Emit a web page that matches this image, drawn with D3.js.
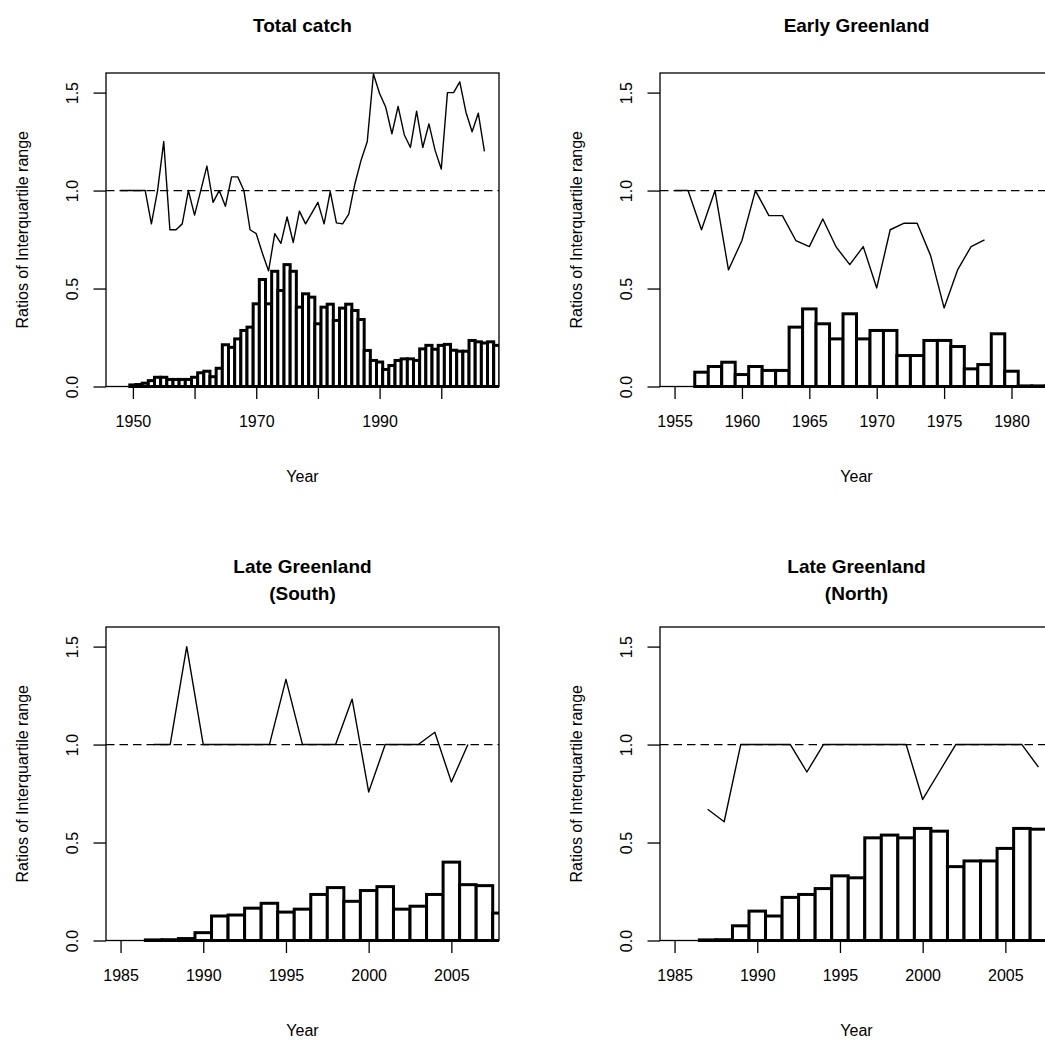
<!DOCTYPE html>
<html><head><meta charset="utf-8">
<script src="https://cdn.jsdelivr.net/npm/d3@7"></script>
<style>
body{margin:0;background:#fff}
text{font-family:"Liberation Sans", Arial, Helvetica, sans-serif;fill:#000}
</style>
</head><body>
<svg id="chart" width="1045" height="1048"></svg>
<script>
// ---------- DATA ----------
const yTickValues = [0, 0.5, 1.0, 1.5];
const yTickLabels = ["0.0", "0.5", "1.0", "1.5"];
const yRange = [0, 1.6];
const referenceLevel = 1.0;

// Total catch
const totalTitle = ["Total catch"];
const totalXRange = [1948, 2007];
const totalXTicks = [1950, 1960, 1970, 1980, 1990, 2000];
const totalXTickLabels = ["1950", "", "1970", "", "1990", ""];
const totalLineYears = [1948,1949,1950,1951,1952,1953,1954,1955,1956,1957,1958,1959,1960,1961,1962,1963,1964,1965,1966,1967,1968,1969,1970,1971,1972,1973,1974,1975,1976,1977,1978,1979,1980,1981,1982,1983,1984,1985,1986,1987,1988,1989,1990,1991,1992,1993,1994,1995,1996,1997,1998,1999,2000,2001,2002,2003,2004,2005,2006,2007];
const totalLineRatio = [1.0,1.0,1.0,1.0,1.0,0.83,1.0,1.25,0.80,0.80,0.83,1.0,0.875,1.0,1.125,0.94,1.0,0.92,1.07,1.07,1.0,0.80,0.78,0.68,0.59,0.78,0.73,0.865,0.735,0.895,0.83,0.885,0.94,0.83,0.995,0.835,0.83,0.88,1.035,1.155,1.25,1.595,1.495,1.425,1.29,1.43,1.285,1.22,1.405,1.22,1.34,1.205,1.11,1.50,1.50,1.555,1.40,1.30,1.395,1.20];
const totalBarYears = [1950,1951,1952,1953,1954,1955,1956,1957,1958,1959,1960,1961,1962,1963,1964,1965,1966,1967,1968,1969,1970,1971,1972,1973,1974,1975,1976,1977,1978,1979,1980,1981,1982,1983,1984,1985,1986,1987,1988,1989,1990,1991,1992,1993,1994,1995,1996,1997,1998,1999,2000,2001,2002,2003,2004,2005,2006,2007,2008,2009];
const totalBarValues = [0.008,0.01,0.017,0.03,0.047,0.047,0.036,0.036,0.036,0.036,0.047,0.07,0.078,0.05,0.093,0.213,0.20,0.243,0.286,0.303,0.422,0.546,0.422,0.588,0.49,0.622,0.588,0.405,0.473,0.456,0.32,0.405,0.42,0.337,0.40,0.42,0.388,0.342,0.184,0.133,0.125,0.087,0.107,0.133,0.141,0.141,0.133,0.192,0.21,0.19,0.21,0.215,0.185,0.18,0.18,0.235,0.228,0.222,0.228,0.21];

// Early Greenland
const earlyTitle = ["Early Greenland"];
const earlyXRange = [1955, 1982];
const earlyXTicks = [1955, 1960, 1965, 1970, 1975, 1980];
const earlyXTickLabels = ["1955", "1960", "1965", "1970", "1975", "1980"];
const earlyLineYears = [1955,1956,1957,1958,1959,1960,1961,1962,1963,1964,1965,1966,1967,1968,1969,1970,1971,1972,1973,1974,1975,1976,1977,1978];
const earlyLineRatio = [1.0,1.0,0.80,1.0,0.595,0.745,1.0,0.872,0.872,0.745,0.714,0.855,0.711,0.622,0.714,0.503,0.80,0.833,0.833,0.668,0.401,0.595,0.714,0.748];
const earlyBarYears = [1957,1958,1959,1960,1961,1962,1963,1964,1965,1966,1967,1968,1969,1970,1971,1972,1973,1974,1975,1976,1977,1978,1979,1980,1981,1982,1983];
const earlyBarValues = [0.073,0.102,0.124,0.061,0.102,0.082,0.082,0.303,0.396,0.32,0.243,0.371,0.243,0.286,0.286,0.158,0.158,0.235,0.235,0.204,0.09,0.112,0.269,0.078,0.003,0.003,0.003];

// Late Greenland (South)
const southTitle = ["Late Greenland", "(South)"];
const lateXRange = [1985, 2007];
const lateXTicks = [1985, 1990, 1995, 2000, 2005];
const lateXTickLabels = ["1985", "1990", "1995", "2000", "2005"];
const southLineYears = [1987,1988,1989,1990,1991,1992,1993,1994,1995,1996,1997,1998,1999,2000,2001,2002,2003,2004,2005,2006];
const southLineRatio = [1.0,1.0,1.5,1.0,1.0,1.0,1.0,1.0,1.333,1.0,1.0,1.0,1.232,0.758,1.0,1.0,1.0,1.063,0.809,1.0];
const southBarYears = [1987,1988,1989,1990,1991,1992,1993,1994,1995,1996,1997,1998,1999,2000,2001,2002,2003,2004,2005,2006,2007,2008];
const southBarValues = [0.003,0.004,0.01,0.04,0.125,0.13,0.165,0.19,0.145,0.16,0.235,0.27,0.2,0.255,0.275,0.16,0.175,0.235,0.40,0.285,0.28,0.14];

// Late Greenland (North)
const northTitle = ["Late Greenland", "(North)"];
const northLineYears = [1987,1988,1989,1990,1991,1992,1993,1994,1995,1996,1997,1998,1999,2000,2001,2002,2003,2004,2005,2006,2007];
const northLineRatio = [0.67,0.606,1.0,1.0,1.0,1.0,0.86,1.0,1.0,1.0,1.0,1.0,1.0,0.72,0.86,1.0,1.0,1.0,1.0,1.0,0.885];
const northBarYears = [1987,1988,1989,1990,1991,1992,1993,1994,1995,1996,1997,1998,1999,2000,2001,2002,2003,2004,2005,2006,2007,2008];
const northBarValues = [0.003,0.004,0.075,0.15,0.125,0.22,0.235,0.265,0.33,0.32,0.524,0.538,0.524,0.572,0.558,0.377,0.406,0.406,0.47,0.572,0.568,0.71];

const yLabel = "Ratios of Interquartile range";
const xLabel = "Year";

// ---------- LAYOUT ----------
const panels = [
  {title: totalTitle, xr: totalXRange, ticks: totalXTicks, tickLabels: totalXTickLabels,
   lx: totalLineYears, ly: totalLineRatio, bx: totalBarYears, by: totalBarValues, col: 0, row: 0},
  {title: earlyTitle, xr: earlyXRange, ticks: earlyXTicks, tickLabels: earlyXTickLabels,
   lx: earlyLineYears, ly: earlyLineRatio, bx: earlyBarYears, by: earlyBarValues, col: 1, row: 0},
  {title: southTitle, xr: lateXRange, ticks: lateXTicks, tickLabels: lateXTickLabels,
   lx: southLineYears, ly: southLineRatio, bx: southBarYears, by: southBarValues, col: 0, row: 1},
  {title: northTitle, xr: lateXRange, ticks: lateXTicks, tickLabels: lateXTickLabels,
   lx: northLineYears, ly: northLineRatio, bx: northBarYears, by: northBarValues, col: 1, row: 1}
];

const svg = d3.select("#chart");
const cell = 554, L0 = 106, T0 = 73, W = 393, H = 313.5, tickLen = 12.5;

panels.forEach((p, i) => {
  const left = L0 + p.col * cell, top = T0 + p.row * cell;
  const g = svg.append("g").attr("transform", `translate(${left},${top})`);
  // R-style 4% axis expansion
  const span = p.xr[1] - p.xr[0];
  const x = d3.scaleLinear().domain([p.xr[0] - 0.04 * span, p.xr[1] + 0.04 * span]).range([0, W]);
  const y = d3.scaleLinear().domain(yRange).range([H, 0]);

  const clipId = "clip" + i;
  g.append("clipPath").attr("id", clipId).append("rect")
    .attr("x", 0).attr("y", -2).attr("width", W).attr("height", H + 4);

  const plot = g.append("g").attr("clip-path", `url(#${clipId})`);

  // bars
  const bars = p.bx.map((yr, k) => ({yr, v: p.by[k]}));
  plot.selectAll("rect.bar").data(bars).enter().append("rect")
    .attr("class", "bar")
    .attr("x", d => x(d.yr - 0.5))
    .attr("width", d => x(d.yr + 0.5) - x(d.yr - 0.5))
    .attr("y", d => y(d.v))
    .attr("height", d => y(0) - y(d.v))
    .attr("fill", "#fff").attr("stroke", "#000").attr("stroke-width", 3);

  // reference dashed line
  plot.append("line")
    .attr("x1", 0).attr("x2", W)
    .attr("y1", y(referenceLevel)).attr("y2", y(referenceLevel))
    .attr("stroke", "#000").attr("stroke-width", 1.3).attr("stroke-dasharray", "8.5,5");

  // ratio line
  const pts = p.lx.map((yr, k) => [yr, p.ly[k]]);
  plot.append("path")
    .attr("d", d3.line().x(d => x(d[0])).y(d => y(d[1]))(pts))
    .attr("fill", "none").attr("stroke", "#000").attr("stroke-width", 1.4)
    .attr("stroke-linejoin", "round");

  // box
  g.append("rect").attr("x", 0).attr("y", 0).attr("width", W).attr("height", H)
    .attr("fill", "none").attr("stroke", "#000").attr("stroke-width", 1.3);

  // y axis
  const ya = g.append("g").call(
    d3.axisLeft(y).tickValues(yTickValues).tickFormat((d, k) => yTickLabels[k])
      .tickSize(tickLen).tickSizeOuter(0));
  ya.select(".domain").remove();
  ya.selectAll("line").attr("stroke", "#000").attr("stroke-width", 1.3);
  ya.selectAll("text")
    .attr("x", null).attr("dy", null).attr("y", null)
    .attr("text-anchor", "middle")
    .attr("transform", "translate(-28.5,0) rotate(-90)")
    .style("font-size", "16px");

  // x axis
  const xa = g.append("g").attr("transform", `translate(0,${H})`).call(
    d3.axisBottom(x).tickValues(p.ticks).tickFormat((d, k) => p.tickLabels[k])
      .tickSize(tickLen).tickSizeOuter(0));
  xa.select(".domain").remove();
  xa.selectAll("line").attr("stroke", "#000").attr("stroke-width", 1.3);
  xa.selectAll("text").attr("dy", null).attr("y", 40).style("font-size", "16px");

  // axis titles
  g.append("text").attr("transform", `translate(-78,${H / 2}) rotate(-90)`)
    .attr("text-anchor", "middle").style("font-size", "16px").text(yLabel);
  g.append("text").attr("x", W / 2).attr("y", H + 95)
    .attr("text-anchor", "middle").style("font-size", "16px").text(xLabel);

  // title
  const nLines = p.title.length;
  p.title.forEach((t, k) => {
    const base = -41 - (nLines - 1) * 13.5 + k * 27;
    g.append("text").attr("x", W / 2).attr("y", base)
      .attr("text-anchor", "middle").style("font-size", "19px").style("font-weight", "bold").text(t);
  });
});
</script>
</body></html>
